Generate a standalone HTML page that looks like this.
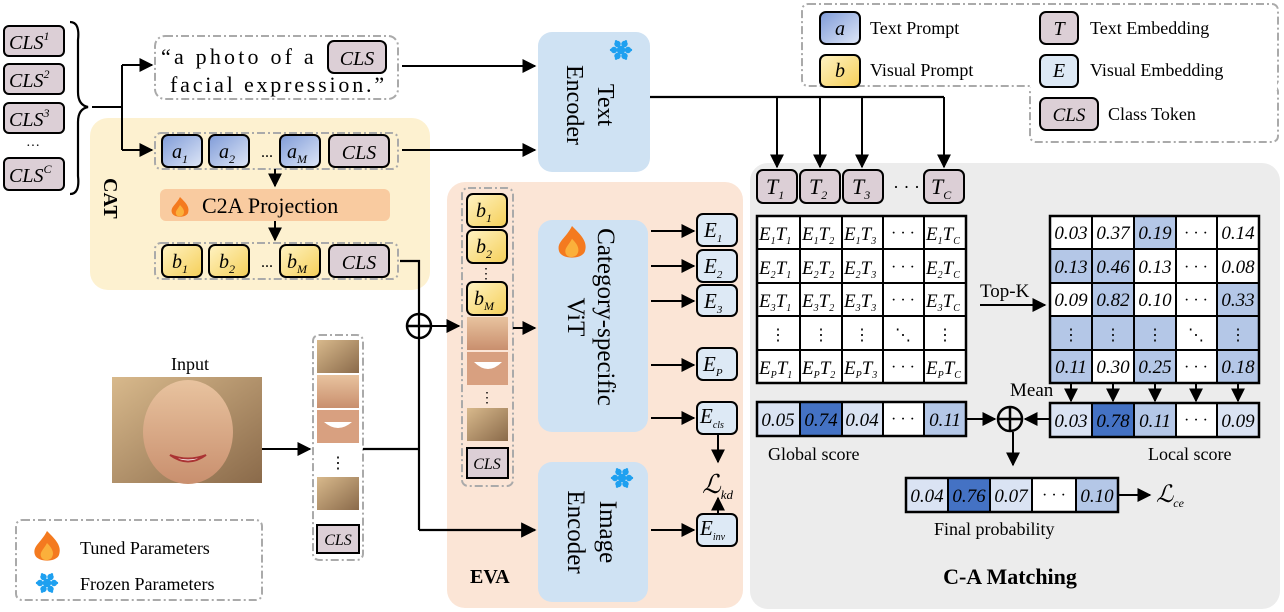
<!DOCTYPE html>
<html><head><meta charset="utf-8"><style>
html,body{margin:0;padding:0;background:#fff;overflow:hidden;width:1284px;height:612px}
svg{display:block}
text{font-family:"Liberation Serif",serif}
.m{font-style:italic}
</style></head><body>
<svg width="1284" height="612" viewBox="0 0 1284 612" xmlns="http://www.w3.org/2000/svg" font-family="Liberation Serif, serif">
<defs>
<marker id="ar" viewBox="0 0 10 10" refX="9" refY="5" markerWidth="7" markerHeight="7" orient="auto"><path d="M0,0L10,5L0,10z" fill="#000"/></marker>
<linearGradient id="ga" x1="0" y1="0" x2="1" y2="1"><stop offset="0" stop-color="#7f9bd8"/><stop offset="1" stop-color="#dfe7f7"/></linearGradient>
<linearGradient id="gb" x1="0" y1="0" x2="1" y2="1"><stop offset="0" stop-color="#fff3c4"/><stop offset="1" stop-color="#f5cf58"/></linearGradient>
<linearGradient id="skin" x1="0" y1="0" x2="0" y2="1"><stop offset="0" stop-color="#e8c39f"/><stop offset="1" stop-color="#c98f6e"/></linearGradient>
<linearGradient id="hair" x1="0" y1="0" x2="1" y2="1"><stop offset="0" stop-color="#d8b98c"/><stop offset="1" stop-color="#8a6a4a"/></linearGradient>
<g id="fire"><path d="M0,-10 C6,-4 10,0 8,6 C6,11 -6,11 -8,6 C-10,0 -4,-2 0,-10z" fill="#f47a1f"/><path d="M0,-2 C4,2 5,5 3,8 C1,10 -3,10 -4,7 C-5,4 -2,2 0,-2z" fill="#fbb03b"/></g>
<g id="snow" stroke="#1ea0f0" stroke-width="2.4" stroke-linecap="round" fill="none"><line x1="-10" y1="0" x2="10" y2="0"/><line x1="-5" y1="-8.7" x2="5" y2="8.7"/><line x1="-5" y1="8.7" x2="5" y2="-8.7"/><circle r="3"/><circle cx="7" cy="0" r="2"/><circle cx="-7" cy="0" r="2"/><circle cx="3.5" cy="6" r="2"/><circle cx="-3.5" cy="6" r="2"/><circle cx="3.5" cy="-6" r="2"/><circle cx="-3.5" cy="-6" r="2"/></g>
</defs>

<rect x="90" y="118" width="340" height="172" rx="18" fill="#fdf1d0"/>
<rect x="447" y="182" width="296" height="426" rx="18" fill="#fbe5d6"/>
<rect x="750" y="163" width="530" height="446" rx="18" fill="#ececec"/>

<rect x="802" y="4" width="476" height="82" rx="6" fill="none" stroke="#aaa" stroke-width="2" stroke-dasharray="8,3,2,3"/>
<rect x="1030" y="86" width="248" height="56" rx="6" fill="none" stroke="#aaa" stroke-width="2" stroke-dasharray="8,3,2,3"/>
<rect x="1031" y="80" width="246" height="10" fill="#fff"/>
<rect x="820" y="12" width="40" height="32" rx="6" fill="url(#ga)" stroke="#000" stroke-width="2"/>
<text x="840" y="35" font-size="20" text-anchor="middle" class="m">a</text>
<text x="870" y="34" font-size="18">Text Prompt</text>
<rect x="820" y="55" width="40" height="32" rx="6" fill="url(#gb)" stroke="#000" stroke-width="2"/>
<text x="840" y="77" font-size="20" text-anchor="middle" class="m">b</text>
<text x="870" y="76" font-size="18">Visual Prompt</text>
<rect x="1040" y="12" width="38" height="32" rx="6" fill="#dccfd6" stroke="#000" stroke-width="2"/>
<text x="1059" y="35" font-size="20" text-anchor="middle" class="m">T</text>
<text x="1090" y="34" font-size="18">Text Embedding</text>
<rect x="1040" y="55" width="38" height="32" rx="6" fill="#dde9f5" stroke="#000" stroke-width="2"/>
<text x="1059" y="77" font-size="20" text-anchor="middle" class="m">E</text>
<text x="1090" y="76" font-size="18">Visual Embedding</text>
<rect x="1040" y="98" width="58" height="32" rx="6" fill="#dccfd6" stroke="#000" stroke-width="2"/>
<text x="1069" y="121" font-size="19" text-anchor="middle" class="m">CLS</text>
<text x="1108" y="120" font-size="18">Class Token</text>

<g font-size="20" class="m">
<rect x="4" y="26" width="60" height="30" rx="5" fill="#dccfd6" stroke="#000" stroke-width="2"/><text x="9" y="49">CLS<tspan font-size="12" dy="-9">1</tspan></text>
<rect x="4" y="64" width="60" height="30" rx="5" fill="#dccfd6" stroke="#000" stroke-width="2"/><text x="9" y="87">CLS<tspan font-size="12" dy="-9">2</tspan></text>
<rect x="4" y="103" width="60" height="30" rx="5" fill="#dccfd6" stroke="#000" stroke-width="2"/><text x="9" y="126">CLS<tspan font-size="12" dy="-9">3</tspan></text>
<text x="26" y="150" font-size="14" font-style="normal">···</text>
<rect x="4" y="158" width="60" height="32" rx="5" fill="#dccfd6" stroke="#000" stroke-width="2"/><text x="9" y="182">CLS<tspan font-size="12" dy="-9">C</tspan></text>
</g>
<path d="M70,22 Q80,22 78,40 L78,92 Q78,105 88,107 Q78,109 78,122 L78,176 Q80,194 70,194" fill="none" stroke="#000" stroke-width="2.2"/>
<path d="M92,107 H122 M122,65 V150" stroke="#000" stroke-width="2" fill="none"/>
<path d="M122,65 H152" stroke="#000" stroke-width="2" marker-end="url(#ar)"/>
<path d="M122,150 H152" stroke="#000" stroke-width="2" marker-end="url(#ar)"/>

<rect x="155" y="36" width="243" height="63" rx="10" fill="#fff" stroke="#aaa" stroke-width="2" stroke-dasharray="8,3,2,3"/>
<text x="161" y="64" font-size="22" letter-spacing="3.2">“a photo of a</text>
<rect x="328" y="41" width="58" height="32" rx="6" fill="#dccfd6" stroke="#000" stroke-width="2"/>
<text x="357" y="65" font-size="20" class="m" text-anchor="middle">CLS</text>
<text x="170" y="92" font-size="22" letter-spacing="2.8">facial expression.”</text>
<path d="M402,66 H535" stroke="#000" stroke-width="2" marker-end="url(#ar)"/>

<rect x="155" y="133" width="243" height="36" rx="6" fill="none" stroke="#aaa" stroke-width="2" stroke-dasharray="8,3,2,3"/>
<g class="m" font-size="20" text-anchor="middle">
<rect x="162" y="135" width="40" height="32" rx="6" fill="url(#ga)" stroke="#000" stroke-width="2"/><text x="180" y="158">a<tspan font-size="12" dy="5">1</tspan></text>
<rect x="209" y="135" width="40" height="32" rx="6" fill="url(#ga)" stroke="#000" stroke-width="2"/><text x="227" y="158">a<tspan font-size="12" dy="5">2</tspan></text>
<text x="267" y="157" font-style="normal" font-size="16">...</text>
<rect x="280" y="135" width="40" height="32" rx="6" fill="url(#ga)" stroke="#000" stroke-width="2"/><text x="297" y="158">a<tspan font-size="12" dy="5">M</tspan></text>
<rect x="329" y="135" width="60" height="32" rx="6" fill="#dccfd6" stroke="#000" stroke-width="2"/><text x="359" y="159">CLS</text>
</g>
<path d="M402,150 H535" stroke="#000" stroke-width="2" marker-end="url(#ar)"/>
<path d="M275,169 V186" stroke="#000" stroke-width="2" marker-end="url(#ar)"/>
<rect x="160" y="189" width="230" height="32" rx="6" fill="#f9cba0"/>
<use href="#fire" transform="translate(180,207)"/>
<text x="202" y="213" font-size="22">C2A Projection</text>
<path d="M275,221 V240" stroke="#000" stroke-width="2" marker-end="url(#ar)"/>
<text font-size="20" font-weight="bold" transform="translate(104,178) rotate(90)">CAT</text>

<rect x="155" y="243" width="243" height="36" rx="6" fill="none" stroke="#aaa" stroke-width="2" stroke-dasharray="8,3,2,3"/>
<g class="m" font-size="20" text-anchor="middle">
<rect x="162" y="245" width="40" height="32" rx="6" fill="url(#gb)" stroke="#000" stroke-width="2"/><text x="180" y="268">b<tspan font-size="12" dy="5">1</tspan></text>
<rect x="209" y="245" width="40" height="32" rx="6" fill="url(#gb)" stroke="#000" stroke-width="2"/><text x="227" y="268">b<tspan font-size="12" dy="5">2</tspan></text>
<text x="267" y="267" font-style="normal" font-size="16">...</text>
<rect x="280" y="245" width="40" height="32" rx="6" fill="url(#gb)" stroke="#000" stroke-width="2"/><text x="297" y="268">b<tspan font-size="12" dy="5">M</tspan></text>
<rect x="329" y="245" width="60" height="32" rx="6" fill="#dccfd6" stroke="#000" stroke-width="2"/><text x="359" y="269">CLS</text>
</g>
<path d="M400,261 H419 V530" stroke="#000" stroke-width="2.2" fill="none"/>
<path d="M419,530 H535" stroke="#000" stroke-width="2.2" marker-end="url(#ar)"/>
<circle cx="419" cy="326" r="12" fill="none" stroke="#000" stroke-width="2.5"/>
<path d="M407,326 H431" stroke="#000" stroke-width="2.5"/>
<path d="M431,326 H459" stroke="#000" stroke-width="2" marker-end="url(#ar)"/>

<text x="190" y="370" font-size="18" text-anchor="middle">Input</text>
<rect x="112" y="377" width="150" height="106" fill="url(#hair)"/>
<ellipse cx="188" cy="432" rx="45" ry="52" fill="url(#skin)"/>
<path d="M170,455 Q188,468 206,455 Q188,462 170,455z" fill="#fff" stroke="#a33" stroke-width="2"/>
<path d="M262,449 H310" stroke="#000" stroke-width="2" marker-end="url(#ar)"/>

<rect x="313" y="335" width="50" height="225" rx="6" fill="#fff" stroke="#aaa" stroke-width="2" stroke-dasharray="8,3,2,3"/>
<rect x="317" y="340" width="42" height="33" fill="url(#hair)"/>
<rect x="317" y="375" width="42" height="33" fill="url(#skin)"/>
<rect x="317" y="410" width="42" height="33" fill="#d8a080"/>
<path d="M324,422 Q338,434 352,422z" fill="#fff"/>
<text x="338" y="468" font-size="16" text-anchor="middle">⋮</text>
<rect x="317" y="477" width="42" height="33" fill="url(#hair)"/>
<rect x="317" y="525" width="42" height="28" fill="#dccfd6" stroke="#000" stroke-width="2"/>
<text x="338" y="545" font-size="16" class="m" text-anchor="middle">CLS</text>
<path d="M363,449 H419" stroke="#000" stroke-width="2.2"/>

<rect x="462" y="188" width="51" height="298" rx="6" fill="none" stroke="#aaa" stroke-width="2" stroke-dasharray="8,3,2,3"/>
<g class="m" font-size="20" text-anchor="middle">
<rect x="467" y="194" width="40" height="33" rx="6" fill="url(#gb)" stroke="#000" stroke-width="2"/><text x="484" y="217">b<tspan font-size="12" dy="5">1</tspan></text>
<rect x="467" y="230" width="40" height="33" rx="6" fill="url(#gb)" stroke="#000" stroke-width="2"/><text x="484" y="253">b<tspan font-size="12" dy="5">2</tspan></text>
<text x="486" y="278" font-style="normal" font-size="14">⋮</text>
<rect x="467" y="282" width="40" height="33" rx="6" fill="url(#gb)" stroke="#000" stroke-width="2"/><text x="484" y="305">b<tspan font-size="12" dy="5">M</tspan></text>
</g>
<rect x="467" y="317" width="41" height="33" fill="url(#skin)"/>
<rect x="467" y="352" width="41" height="33" fill="#d8a080"/>
<path d="M474,362 Q488,376 502,362z" fill="#fff"/>
<text x="487" y="402" font-size="14" text-anchor="middle">⋮</text>
<rect x="467" y="408" width="41" height="33" fill="url(#hair)"/>
<rect x="467" y="448" width="41" height="30" fill="#dccfd6" stroke="#000" stroke-width="2"/>
<text x="487" y="469" font-size="16" class="m" text-anchor="middle">CLS</text>
<path d="M513,328 H535" stroke="#000" stroke-width="2" marker-end="url(#ar)"/>

<rect x="538" y="32" width="112" height="140" rx="14" fill="#cfe2f3"/>
<use href="#snow" transform="translate(621,50)"/>
<text transform="translate(598,105) rotate(90)" font-size="24" text-anchor="middle">Text</text>
<text transform="translate(567,105) rotate(90)" font-size="24" text-anchor="middle">Encoder</text>
<rect x="538" y="220" width="110" height="212" rx="14" fill="#cfe2f3"/>
<use href="#fire" transform="translate(572,242) scale(1.6)"/>
<text transform="translate(598,317) rotate(90)" font-size="25" text-anchor="middle">Category-specific</text>
<text transform="translate(568,317) rotate(90)" font-size="25" text-anchor="middle">ViT</text>
<rect x="538" y="462" width="110" height="140" rx="14" fill="#cfe2f3"/>
<use href="#snow" transform="translate(622,478)"/>
<text transform="translate(600,532) rotate(90)" font-size="25" text-anchor="middle">Image</text>
<text transform="translate(568,532) rotate(90)" font-size="25" text-anchor="middle">Encoder</text>

<g class="m" font-size="21">
<rect x="697" y="214" width="40" height="32" rx="6" fill="#dde9f5" stroke="#000" stroke-width="2"/><text x="704" y="237">E<tspan font-size="11" dy="5">1</tspan></text>
<rect x="697" y="250" width="40" height="32" rx="6" fill="#dde9f5" stroke="#000" stroke-width="2"/><text x="704" y="273">E<tspan font-size="11" dy="5">2</tspan></text>
<rect x="697" y="285" width="40" height="31" rx="6" fill="#dde9f5" stroke="#000" stroke-width="2"/><text x="704" y="308">E<tspan font-size="11" dy="5">3</tspan></text>
<rect x="697" y="348" width="40" height="32" rx="6" fill="#dde9f5" stroke="#000" stroke-width="2"/><text x="703" y="371">E<tspan font-size="11" dy="5">P</tspan></text>
<rect x="697" y="402" width="40" height="32" rx="6" fill="#dde9f5" stroke="#000" stroke-width="2"/><text x="700" y="423">E<tspan font-size="10" dy="5">cls</tspan></text>
<rect x="697" y="514" width="40" height="32" rx="6" fill="#dde9f5" stroke="#000" stroke-width="2"/><text x="700" y="535">E<tspan font-size="10" dy="5">inv</tspan></text>
<text x="702" y="493" font-size="26">ℒ<tspan font-size="13" dy="6">kd</tspan></text>
</g>
<g stroke="#000" stroke-width="2" marker-end="url(#ar)">
<path d="M651,231 H694"/><path d="M651,266 H694"/><path d="M651,301 H694"/><path d="M651,365 H694"/><path d="M651,418 H694"/><path d="M651,530 H694"/>
<path d="M718,435 V462"/><path d="M718,513 V498"/>
</g>
<text x="470" y="583" font-size="20" font-weight="bold">EVA</text>

<path d="M650,97 H944" stroke="#000" stroke-width="2.2" fill="none"/>
<g stroke="#000" stroke-width="2" marker-end="url(#ar)">
<path d="M777,97 V167"/><path d="M820,97 V167"/><path d="M862,97 V167"/><path d="M944,97 V167"/>
</g>

<g class="m" font-size="22">
<rect x="757" y="170" width="40" height="33" rx="6" fill="#dccfd6" stroke="#000" stroke-width="2"/><text x="766" y="194">T<tspan font-size="12" dy="5">1</tspan></text>
<rect x="800" y="170" width="40" height="33" rx="6" fill="#dccfd6" stroke="#000" stroke-width="2"/><text x="809" y="194">T<tspan font-size="12" dy="5">2</tspan></text>
<rect x="843" y="170" width="40" height="33" rx="6" fill="#dccfd6" stroke="#000" stroke-width="2"/><text x="852" y="194">T<tspan font-size="12" dy="5">3</tspan></text>
<text x="893" y="193" font-style="normal" font-size="18">· · ·</text>
<rect x="924" y="170" width="40" height="33" rx="6" fill="#dccfd6" stroke="#000" stroke-width="2"/><text x="931" y="194">T<tspan font-size="12" dy="5">C</tspan></text>
</g>

<rect x="757" y="216" width="209" height="167" fill="#fff" stroke="#000" stroke-width="2.5"/>
<path d="M800,216V383M842,216V383M883,216V383M924,216V383M757,249H966M757,283H966M757,316H966M757,350H966" stroke="#000" stroke-width="2"/>
<g class="m" font-size="19">
<text x="759" y="240">E<tspan font-size="10" dy="4">1</tspan><tspan dy="-4">T</tspan><tspan font-size="10" dy="4">1</tspan></text>
<text x="802" y="240">E<tspan font-size="10" dy="4">1</tspan><tspan dy="-4">T</tspan><tspan font-size="10" dy="4">2</tspan></text>
<text x="844" y="240">E<tspan font-size="10" dy="4">1</tspan><tspan dy="-4">T</tspan><tspan font-size="10" dy="4">3</tspan></text>
<text x="926" y="240">E<tspan font-size="10" dy="4">1</tspan><tspan dy="-4">T</tspan><tspan font-size="10" dy="4">C</tspan></text>
<text x="759" y="274">E<tspan font-size="10" dy="4">2</tspan><tspan dy="-4">T</tspan><tspan font-size="10" dy="4">1</tspan></text>
<text x="802" y="274">E<tspan font-size="10" dy="4">2</tspan><tspan dy="-4">T</tspan><tspan font-size="10" dy="4">2</tspan></text>
<text x="844" y="274">E<tspan font-size="10" dy="4">2</tspan><tspan dy="-4">T</tspan><tspan font-size="10" dy="4">3</tspan></text>
<text x="926" y="274">E<tspan font-size="10" dy="4">2</tspan><tspan dy="-4">T</tspan><tspan font-size="10" dy="4">C</tspan></text>
<text x="759" y="307">E<tspan font-size="10" dy="4">3</tspan><tspan dy="-4">T</tspan><tspan font-size="10" dy="4">1</tspan></text>
<text x="802" y="307">E<tspan font-size="10" dy="4">3</tspan><tspan dy="-4">T</tspan><tspan font-size="10" dy="4">2</tspan></text>
<text x="844" y="307">E<tspan font-size="10" dy="4">3</tspan><tspan dy="-4">T</tspan><tspan font-size="10" dy="4">3</tspan></text>
<text x="926" y="307">E<tspan font-size="10" dy="4">3</tspan><tspan dy="-4">T</tspan><tspan font-size="10" dy="4">C</tspan></text>
<text x="759" y="374">E<tspan font-size="10" dy="4">P</tspan><tspan dy="-4">T</tspan><tspan font-size="10" dy="4">1</tspan></text>
<text x="802" y="374">E<tspan font-size="10" dy="4">P</tspan><tspan dy="-4">T</tspan><tspan font-size="10" dy="4">2</tspan></text>
<text x="844" y="374">E<tspan font-size="10" dy="4">P</tspan><tspan dy="-4">T</tspan><tspan font-size="10" dy="4">3</tspan></text>
<text x="926" y="374">E<tspan font-size="10" dy="4">P</tspan><tspan dy="-4">T</tspan><tspan font-size="10" dy="4">C</tspan></text>
</g>
<g font-size="16" text-anchor="middle">
<text x="903" y="238">· · ·</text><text x="903" y="272">· · ·</text><text x="903" y="305">· · ·</text><text x="903" y="372">· · ·</text>
<text x="778" y="340">⋮</text><text x="821" y="340">⋮</text><text x="862" y="340">⋮</text><text x="945" y="340">⋮</text><text x="903" y="340">⋱</text>
</g>

<text x="980" y="297" font-size="19">Top-K</text>
<path d="M980,305 H1045" stroke="#000" stroke-width="2" marker-end="url(#ar)"/>

<rect x="1050" y="216" width="209" height="167" fill="#fff"/>
<g fill="#b4c7e7">
<rect x="1134" y="216" width="42" height="33"/>
<rect x="1050" y="249" width="84" height="34"/>
<rect x="1092" y="283" width="42" height="33"/><rect x="1217" y="283" width="42" height="33"/>
<rect x="1050" y="316" width="126" height="34"/><rect x="1217" y="316" width="42" height="34"/>
<rect x="1050" y="350" width="42" height="33"/><rect x="1134" y="350" width="42" height="33"/><rect x="1217" y="350" width="42" height="33"/>
</g>
<rect x="1050" y="216" width="209" height="167" fill="none" stroke="#000" stroke-width="2.5"/>
<path d="M1092,216V383M1134,216V383M1176,216V383M1217,216V383M1050,249H1259M1050,283H1259M1050,316H1259M1050,350H1259" stroke="#000" stroke-width="2"/>
<g class="m" font-size="19" text-anchor="middle">
<text x="1071" y="239">0.03</text><text x="1113" y="239">0.37</text><text x="1155" y="239">0.19</text><text x="1238" y="239">0.14</text>
<text x="1071" y="273">0.13</text><text x="1113" y="273">0.46</text><text x="1155" y="273">0.13</text><text x="1238" y="273">0.08</text>
<text x="1071" y="306">0.09</text><text x="1113" y="306">0.82</text><text x="1155" y="306">0.10</text><text x="1238" y="306">0.33</text>
<text x="1071" y="373">0.11</text><text x="1113" y="373">0.30</text><text x="1155" y="373">0.25</text><text x="1238" y="373">0.18</text>
</g>
<g font-size="16" text-anchor="middle">
<text x="1196" y="238">· · ·</text><text x="1196" y="272">· · ·</text><text x="1196" y="305">· · ·</text><text x="1196" y="372">· · ·</text>
<text x="1071" y="340">⋮</text><text x="1113" y="340">⋮</text><text x="1155" y="340">⋮</text><text x="1238" y="340">⋮</text><text x="1196" y="340">⋱</text>
</g>
<g stroke="#000" stroke-width="2" marker-end="url(#ar)">
<path d="M1071,384V401"/><path d="M1113,384V401"/><path d="M1155,384V401"/><path d="M1196,384V401"/><path d="M1238,384V401"/>
</g>
<text x="1010" y="396" font-size="19">Mean</text>

<rect x="757" y="402" width="43" height="34" fill="#dae3f3"/><rect x="800" y="402" width="42" height="34" fill="#4472c4"/><rect x="842" y="402" width="41" height="34" fill="#dae3f3"/><rect x="883" y="402" width="41" height="34" fill="#fff"/><rect x="924" y="402" width="42" height="34" fill="#b4c7e7"/>
<rect x="757" y="402" width="209" height="34" fill="none" stroke="#000" stroke-width="2.5"/>
<path d="M800,402V436M842,402V436M883,402V436M924,402V436" stroke="#000" stroke-width="2"/>
<g class="m" font-size="19" text-anchor="middle"><text x="778" y="426">0.05</text><text x="821" y="426">0.74</text><text x="862" y="426">0.04</text><text x="945" y="426">0.11</text></g>
<text x="903" y="424" font-size="16" text-anchor="middle">· · ·</text>
<text x="768" y="460" font-size="18">Global score</text>

<rect x="1050" y="403" width="42" height="34" fill="#dae3f3"/><rect x="1092" y="403" width="42" height="34" fill="#4472c4"/><rect x="1134" y="403" width="42" height="34" fill="#b4c7e7"/><rect x="1176" y="403" width="41" height="34" fill="#fff"/><rect x="1217" y="403" width="42" height="34" fill="#dae3f3"/>
<rect x="1050" y="403" width="209" height="34" fill="none" stroke="#000" stroke-width="2.5"/>
<path d="M1092,403V437M1134,403V437M1176,403V437M1217,403V437" stroke="#000" stroke-width="2"/>
<g class="m" font-size="19" text-anchor="middle"><text x="1071" y="427">0.03</text><text x="1113" y="427">0.78</text><text x="1155" y="427">0.11</text><text x="1238" y="427">0.09</text></g>
<text x="1196" y="425" font-size="16" text-anchor="middle">· · ·</text>
<text x="1148" y="460" font-size="18">Local score</text>

<circle cx="1010" cy="419" r="12" fill="none" stroke="#000" stroke-width="2.5"/>
<path d="M998,419H1022M1010,407V431" stroke="#000" stroke-width="2.5"/>
<path d="M966,419H995" stroke="#000" stroke-width="2" marker-end="url(#ar)"/>
<path d="M1049,419H1025" stroke="#000" stroke-width="2" marker-end="url(#ar)"/>
<path d="M1013,432V465" stroke="#000" stroke-width="2" marker-end="url(#ar)"/>

<rect x="906" y="478" width="42" height="34" fill="#dae3f3"/><rect x="948" y="478" width="42" height="34" fill="#4472c4"/><rect x="990" y="478" width="42" height="34" fill="#dae3f3"/><rect x="1032" y="478" width="44" height="34" fill="#fff"/><rect x="1076" y="478" width="42" height="34" fill="#b4c7e7"/>
<rect x="906" y="478" width="212" height="34" fill="none" stroke="#000" stroke-width="2.5"/>
<path d="M948,478V512M990,478V512M1032,478V512M1076,478V512" stroke="#000" stroke-width="2"/>
<g class="m" font-size="19" text-anchor="middle"><text x="927" y="502">0.04</text><text x="969" y="502">0.76</text><text x="1011" y="502">0.07</text><text x="1097" y="502">0.10</text></g>
<text x="1054" y="500" font-size="16" text-anchor="middle">· · ·</text>
<path d="M1118,495H1150" stroke="#000" stroke-width="2" marker-end="url(#ar)"/>
<text x="1156" y="502" font-size="24" class="m">ℒ<tspan font-size="12" dy="5">ce</tspan></text>
<text x="934" y="535" font-size="18">Final probability</text>
<text x="1010" y="584" font-size="22" font-weight="bold" text-anchor="middle">C-A Matching</text>

<rect x="16" y="520" width="246" height="80" rx="6" fill="none" stroke="#aaa" stroke-width="2" stroke-dasharray="8,3,2,3"/>
<use href="#fire" transform="translate(47,546) scale(1.5)"/>
<text x="80" y="554" font-size="18">Tuned  Parameters</text>
<use href="#snow" transform="translate(47,583)"/>
<text x="80" y="590" font-size="18">Frozen Parameters</text>
</svg>
</body></html>
